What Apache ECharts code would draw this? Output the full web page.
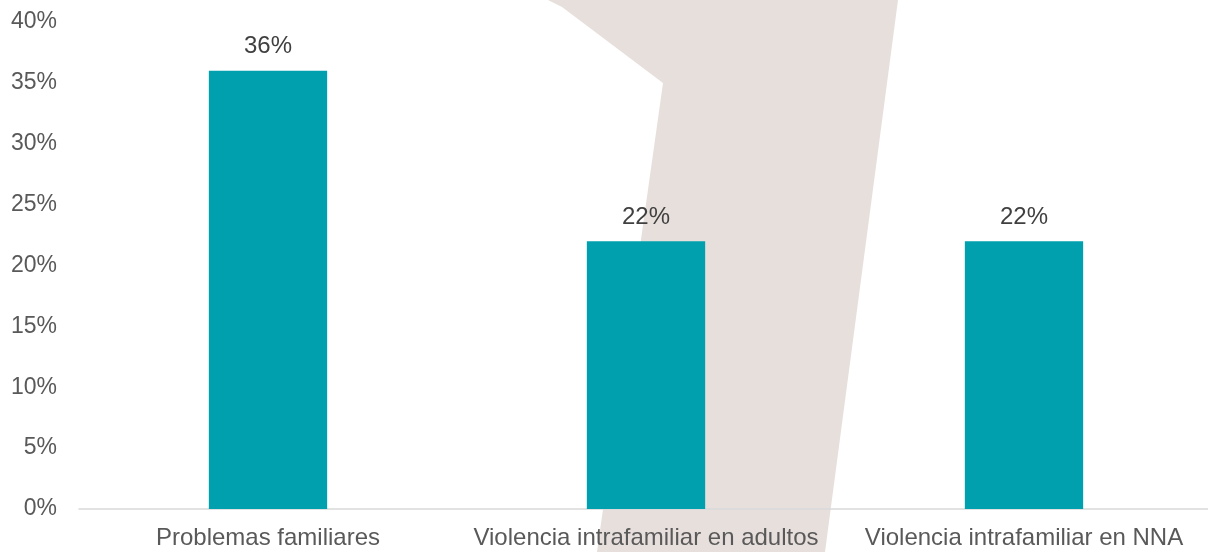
<!DOCTYPE html>
<html><head><meta charset="utf-8">
<script src="https://cdn.jsdelivr.net/npm/echarts@6/dist/echarts.min.js"></script>
<style>html,body{margin:0;padding:0;background:#fff;overflow:hidden}#c{width:1213px;height:552px}</style>
</head><body><div id="c"></div>
<script>
var categories = ['Problemas familiares', 'Violencia intrafamiliar en adultos', 'Violencia intrafamiliar en NNA'];
var values = [36, 22, 22];
var yTicks = [0, 5, 10, 15, 20, 25, 30, 35, 40];

var FONT = 'Liberation Sans, Arial, sans-serif';
var chart = echarts.init(document.getElementById('c'));
chart.setOption({
  backgroundColor: '#ffffff',
  animation: false,
  graphic: [{
    type: 'polygon', z: -10, silent: true,
    shape: { points: [[548,0],[562,7],[663,83],[597,552],[825,552],[898,0]] },
    style: { fill: '#e7dfdc' }
  }],
  grid: { left: 79, top: 22, right: 0, bottom: 43, containLabel: false, outerBoundsMode: 'none' },
  xAxis: {
    type: 'category', data: categories,
    axisLine: { lineStyle: { color: '#d9d9d9', width: 1.5 } },
    axisTick: { show: false },
    axisLabel: { color: '#595959', fontSize: 24, fontFamily: FONT, margin: 17, interval: 0 }
  },
  yAxis: {
    type: 'value', min: yTicks[0], max: yTicks[yTicks.length - 1], interval: 5,
    splitLine: { show: false },
    axisLine: { show: false }, axisTick: { show: false },
    axisLabel: { color: '#595959', fontSize: 23, fontFamily: FONT, margin: 22, formatter: '{value}%' }
  },
  series: [{
    type: 'bar', data: values, barWidth: '31.3%',
    itemStyle: { color: '#00a0ae' },
    label: { show: true, position: 'top', distance: 12, color: '#404040', fontSize: 24, fontFamily: FONT, formatter: '{c}%' }
  }]
});
</script></body></html>
